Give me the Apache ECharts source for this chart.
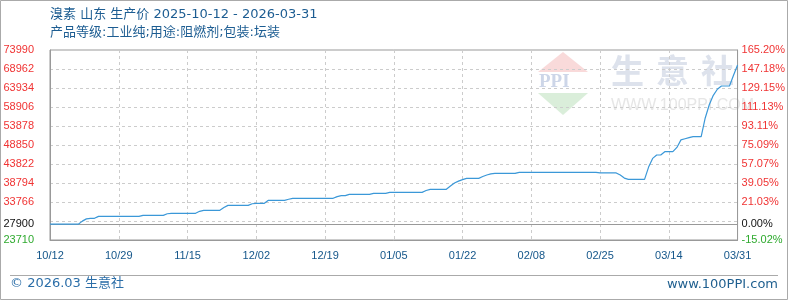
<!DOCTYPE html>
<html>
<head>
<meta charset="utf-8">
<script src="https://cdn.jsdelivr.net/npm/echarts@6/dist/echarts.min.js"></script>
<style>
html,body{margin:0;padding:0;background:#fff;}
#c{width:788px;height:300px;}
</style>
</head>
<body>
<div id="c"></div>
<script>
var titleLine1 = '溴素 山东 生产价 2025-10-12 - 2026-03-31';
var titleLine2 = '产品等级:工业纯;用途:阻燃剂;包装:坛装';
var startDate = '2025-10-12';
var dayCount = 171;
var xTickLabels = ['10/12','10/29','11/15','12/02','12/19','01/05','01/22','02/08','02/25','03/14','03/31'];
var baseValue = 27900;
var leftTicks = [23710, 27900, 33766, 38794, 43822, 48850, 53878, 58906, 63934, 68962, 73990];
var rightTickLabels = ['-15.02%','0.00%','21.03%','39.05%','57.07%','75.09%','93.11%','111.13%','129.15%','147.18%','165.20%'];
var prices = [
27900,27900,27900,27900,27900,27900,27900,27900,
28700,29300,29450,29450,
29970,29970,29970,29970,29970,29970,29970,29970,29970,29970,29970,
30240,30240,30240,30240,30240,30240,
30650,
30770,30770,30770,30770,30770,30770,30770,
31300,
31560,31560,31560,31560,31560,
32300,
32880,32880,32880,32880,32880,32880,
33300,
33410,33410,33410,
34210,34210,34210,34210,34210,
34500,
34740,34740,34740,34740,34740,34740,34740,34740,34740,34740,34740,
35200,
35440,35440,
35800,35800,35800,35800,35800,35800,
36060,36060,36060,36060,
36320,36320,36320,36320,36320,36320,36320,36320,36320,
36800,
37120,37120,37120,37120,37120,
38000,38800,39300,39700,
40030,40030,40030,40030,
40500,40910,41200,
41350,41350,41350,41350,41350,41350,
41620,41620,41620,41620,41620,41620,41620,41620,41620,41620,41620,41620,41620,41620,41620,41620,41620,41620,41620,41620,
41450,41450,41450,41450,41450,
40900,40100,
39760,39760,39760,39760,39760,
43000,45300,
46200,46200,
47080,47080,47080,
48200,50200,50500,50800,
51050,51050,51050,
56000,59500,62000,63600,
64460,64460,64460,
67300,70020
];

var categories = [];
(function(){
  var d = new Date(startDate + 'T00:00:00Z');
  for (var i = 0; i < dayCount; i++) {
    var m = d.getUTCMonth() + 1, dd = d.getUTCDate();
    categories.push((m < 10 ? '0' : '') + m + '/' + (dd < 10 ? '0' : '') + dd);
    d.setUTCDate(d.getUTCDate() + 1);
  }
})();

var RED = '#f03333', GREEN = '#2faa2f', BLACK = '#111111';
function tickColor(v){
  v = Number(v);
  if (v === baseValue) return BLACK;
  return v < baseValue ? GREEN : RED;
}

var chart = echarts.init(document.getElementById('c'), null, {renderer:'canvas'});
var FONT = 'Liberation Sans';
var TFONT = '13px "DejaVu Sans", "Noto Sans CJK SC"';
chart.setOption({
  animation: false,
  backgroundColor: '#ffffff',
  grid: {left: 50, right: 50, top: 50, bottom: 60, show: true, borderColor: '#999', borderWidth: 1},
  xAxis: {
    type: 'category',
    data: categories,
    boundaryGap: false,
    axisLine: {lineStyle: {color: '#999', width: 1}},
    axisTick: {show: false},
    axisLabel: {
      interval: 16, margin: 10, color: '#14568a', fontSize: 11, fontFamily: FONT,
      formatter: function(v, i){ return xTickLabels[i / 17] !== undefined ? xTickLabels[i/17] : v; }
    },
    splitLine: {show: true, interval: 16, lineStyle: {color: '#cccccc', type: [3, 3], width: 1}}
  },
  yAxis: [{
    type: 'value', position: 'left',
    min: 23710, max: 73990, interval: 5028,
    axisLine: {show: true, lineStyle: {color: '#999'}},
    axisTick: {show: false},
    splitLine: {show: true, lineStyle: {color: '#cccccc', type: [3, 3], width: 1}},
    axisLabel: {
      customValues: leftTicks,
      margin: 16, fontSize: 11, fontFamily: FONT,
      color: function(v){ return tickColor(v); },
      formatter: function(v){ return String(v); }
    }
  }, {
    type: 'value', position: 'right',
    min: 23710, max: 73990, interval: 5028,
    axisLine: {show: true, lineStyle: {color: '#999'}},
    axisTick: {show: false},
    splitLine: {show: false},
    axisLabel: {
      customValues: leftTicks,
      margin: 4, fontSize: 11, fontFamily: FONT,
      color: function(v){ return tickColor(v); },
      formatter: function(v){ var i = leftTicks.indexOf(Number(v)); return i >= 0 ? rightTickLabels[i] : ''; }
    }
  }],
  graphic: [
    {type:'rect', silent:true, z:-20, shape:{x:0.5, y:0.5, width:787, height:299}, style:{fill:'none', stroke:'#aaaaaa', lineWidth:1}},
    {type:'line', silent:true, z:-20, shape:{x1:10, y1:275.5, x2:778, y2:275.5}, style:{stroke:'#aaaaaa', lineWidth:1}},
    {type:'text', silent:true, left:50, top:8, style:{text:titleLine1, font:TFONT, fill:'#1d5d92'}},
    {type:'text', silent:true, left:50, top:26, style:{text:titleLine2, font:TFONT, fill:'#1d5d92'}},
    {type:'text', silent:true, left:10, top:277, style:{text:'© 2026.03 生意社', font:TFONT, fill:'#2b6ea8'}},
    {type:'text', silent:true, right:10, top:278, style:{text:'www.100PPI.com', font:'13px "DejaVu Sans"', fill:'#1f5f8f'}},
    {type:'polygon', silent:true, z:-10, shape:{points:[[563,52],[588,72],[538,72]]}, style:{fill:'#f9dada'}},
    {type:'polygon', silent:true, z:-10, shape:{points:[[538,93],[588,93],[563,115]]}, style:{fill:'#daeeda'}},
    {type:'text', silent:true, z:-10, x:539, y:73, style:{text:'PPI', font:'bold 19px "Liberation Serif"', fill:'#cdd6e8'}},
    {type:'text', silent:true, z:-10, x:611, y:54, style:{text:'生', font:'bold 33px "Noto Sans CJK SC"', fill:'#dde2ec'}},
    {type:'text', silent:true, z:-10, x:656, y:54, style:{text:'意', font:'bold 33px "Noto Sans CJK SC"', fill:'#dde2ec'}},
    {type:'text', silent:true, z:-10, x:701, y:54, style:{text:'社', font:'bold 33px "Noto Sans CJK SC"', fill:'#dde2ec'}},
    {type:'text', silent:true, z:-10, x:611, y:98, style:{text:'WWW.100PPI.COM', font:'16px "Liberation Sans"', fill:'#e6e6e6'}}
  ],
  series: [{
    type: 'line',
    data: prices,
    yAxisIndex: 0,
    symbol: 'none',
    lineStyle: {color: '#3b98d8', width: 1.2},
    z: 5,
    markLine: {
      silent: true, symbol: 'none', label: {show: false},
      lineStyle: {color: '#999999', type: 'solid', width: 1},
      data: [{yAxis: baseValue}]
    }
  }]
});
</script>
</body>
</html>
